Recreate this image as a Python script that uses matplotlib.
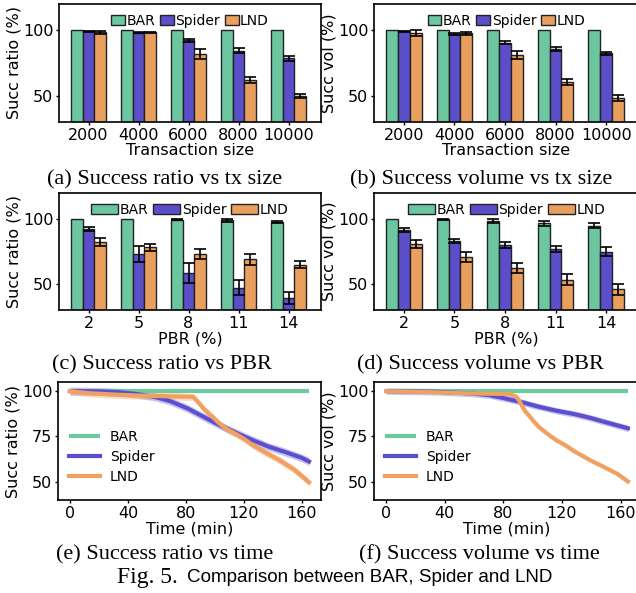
import matplotlib
matplotlib.use("Agg")
import matplotlib.pyplot as plt
import numpy as np

# ---------------- data ----------------
tx_sizes = ["2000", "4000", "6000", "8000", "10000"]
pbr_vals = ["2", "5", "8", "11", "14"]

# (a) success ratio vs tx size
a_bar = [100, 100, 100, 100, 100]
a_bar_err = [0, 0, 0, 0, 0]
a_spider = [99.3, 98.0, 92.2, 84.5, 78.8]
a_spider_err = [0.4, 0.5, 1.4, 2.1, 1.9]
a_lnd = [98.3, 98.3, 81.5, 62.0, 49.5]
a_lnd_err = [1.2, 0.7, 3.8, 2.5, 1.5]

# (b) success volume vs tx size
b_bar = [100, 100, 100, 100, 100]
b_bar_err = [0, 0, 0, 0, 0]
b_spider = [99.3, 97.0, 90.5, 85.5, 82.4]
b_spider_err = [0.3, 1.0, 1.3, 1.5, 1.1]
b_lnd = [97.8, 97.6, 81.0, 60.5, 48.4]
b_lnd_err = [2.0, 1.2, 3.1, 2.5, 2.1]

# (c) success ratio vs PBR
c_bar = [100, 100, 99.5, 99.0, 97.7]
c_bar_err = [0, 0, 0.5, 1.0, 1.0]
c_spider = [92.2, 73.1, 58.5, 47.2, 39.6]
c_spider_err = [1.5, 5.8, 7.5, 6.0, 4.6]
c_lnd = [82.2, 78.1, 72.9, 69.0, 65.0]
c_lnd_err = [3.0, 3.0, 4.0, 4.0, 3.0]

# (d) success volume vs PBR
d_bar = [100, 99.7, 98.5, 96.6, 95.0]
d_bar_err = [0, 0.3, 1.3, 1.7, 2.0]
d_spider = [91.2, 83.2, 79.8, 76.7, 74.9]
d_spider_err = [1.5, 1.8, 2.2, 2.2, 3.2]
d_lnd = [80.8, 71.1, 62.4, 53.4, 45.8]
d_lnd_err = [3.2, 3.9, 4.1, 4.5, 4.0]

# (e) success ratio vs time
e_bar_t = [0, 165]
e_bar = [100, 100]
e_spider_t = [0, 21, 35, 46, 58, 69, 81, 92, 103, 115, 126, 137, 149, 160, 165]
e_spider = [100, 99.8, 99.3, 98.4, 96.9, 94.5, 90.5, 85.9, 81.3, 76.9, 73.0, 69.4, 66.3, 63.2, 61.2]
e_spider_band = 2.2
e_lnd_t = [0, 12, 35, 58, 81, 85, 89, 92, 96, 99, 103, 108, 115, 121, 126, 132, 137,
           144, 149, 155, 160, 165]
e_lnd = [100, 98.9, 97.9, 97.3, 96.9, 96.8, 93.5, 90.5, 87.5, 85.3, 82.2, 79.2, 76.2,
         73.2, 70.3, 67.5, 65.2, 62.2, 59.7, 56.6, 53.2, 49.8]
e_lnd_band = 2.0

# (f) success volume vs time
f_bar_t = [0, 165]
f_bar = [100, 100]
f_spider_t = [0, 35, 58, 70, 81, 93, 104, 116, 128, 139, 150, 165]
f_spider = [100, 99.6, 98.7, 97.8, 96.0, 93.8, 91.4, 89.2, 87.4, 85.3, 82.8, 79.5]
f_spider_band = 1.8
f_lnd_t = [0, 35, 58, 81, 85, 89, 91, 93, 95, 98, 100, 104, 110, 116, 123, 128, 134,
           139, 145, 150, 158, 165]
f_lnd = [100, 99.3, 98.7, 98.4, 98.2, 96.8, 94.5, 91.5, 88.8, 86.0, 84.0, 80.4, 76.5,
         73.0, 69.8, 67.0, 64.3, 62.0, 59.6, 57.6, 54.3, 50.2]
f_lnd_band = 0.8

series_names = ["BAR", "Spider", "LND"]
colors = ["#6cc6a0", "#5b4ec9", "#e9a05f"]
line_colors = ["#6cc9a0", "#5b4ecf", "#f0a060"]

captions = ["(a) Success ratio vs tx size", "(b) Success volume vs tx size",
            "(c) Success ratio vs PBR", "(d) Success volume vs PBR",
            "(e) Success ratio vs time", "(f) Success volume vs time"]

# ---------------- figure ----------------
W, H = 636, 593
plt.rcParams["font.family"] = ["DejaVu Sans"]
fig = plt.figure(figsize=(W / 100, H / 100), dpi=100)
fig.patch.set_facecolor("white")


def px_axes(l, t, r, b):
    return fig.add_axes([l / W, 1 - b / H, (r - l) / W, (b - t) / H])


TICK_FS = 11.5
LAB_FS = 11.5


def style(ax):
    for s in ax.spines.values():
        s.set_linewidth(1.2)
        s.set_color("black")
    ax.tick_params(length=2.5, width=1, direction="out", labelsize=TICK_FS, pad=1.5)


def bar_panel(ax, cats, data, xlabel, ylabel, hl):
    x = np.arange(len(cats))
    w = 0.233
    offs = [-w, 0, w]
    for (vals, errs), off, col, name in zip(data, offs, colors, series_names):
        vals = np.asarray(vals, float)
        errs = np.asarray(errs, float)
        ax.bar(x + off, vals, w, color=col, edgecolor="#222222", linewidth=1.0, label=name)
        m = errs > 0
        ax.errorbar((x + off)[m], vals[m], yerr=errs[m], fmt="none", ecolor="black",
                    elinewidth=1.2, capsize=4.2, capthick=1.2)
    ax.set_xlim(-0.59, 4.65)
    ax.set_ylim(30, 120)
    ax.set_yticks([50, 100])
    ax.set_xticks(x)
    ax.set_xticklabels(cats)
    ax.set_xlabel(xlabel, fontsize=LAB_FS, labelpad=0.5)
    ax.set_ylabel(ylabel, fontsize=LAB_FS, labelpad=1)
    style(ax)
    ax.legend(loc="upper center", bbox_to_anchor=(0.5, 1.0), ncol=3, frameon=False,
              fontsize=10, handlelength=hl, handleheight=0.75, handletextpad=0.1,
              columnspacing=0.35, borderaxespad=0.3)


def line_panel(ax, bar_t, bar, sp_t, sp, sp_band, ln_t, ln, ln_band, ylabel):
    ax.plot(bar_t, bar, color=line_colors[0], lw=3, label="BAR", solid_capstyle="butt")
    sp_t = np.asarray(sp_t, float); sp = np.asarray(sp, float)
    ln_t = np.asarray(ln_t, float); ln = np.asarray(ln, float)
    ax.fill_between(sp_t, sp - sp_band, sp + sp_band, color=line_colors[1], alpha=0.33, lw=0)
    ax.plot(sp_t, sp, color=line_colors[1], lw=3, label="Spider")
    ax.fill_between(ln_t, ln - ln_band, ln + ln_band, color=line_colors[2], alpha=0.38, lw=0)
    ax.plot(ln_t, ln, color=line_colors[2], lw=3, label="LND")
    ax.set_xlim(-8.25, 173.25)
    ax.set_ylim(40, 105)
    ax.set_yticks([50, 75, 100])
    ax.set_xticks([0, 40, 80, 120, 160])
    ax.set_xlabel("Time (min)", fontsize=LAB_FS, labelpad=0.5)
    ax.set_ylabel(ylabel, fontsize=LAB_FS, labelpad=1)
    style(ax)
    ax.legend(loc="lower left", frameon=False, fontsize=10, handlelength=2.2,
              handletextpad=0.75, labelspacing=0.45, borderaxespad=0.4,
              bbox_to_anchor=(0.0, 0.04))


ax_a = px_axes(59, 4, 321, 122)
ax_b = px_axes(374, 4, 639, 122)
ax_c = px_axes(59, 193, 321, 310)
ax_d = px_axes(374, 193, 639, 310)
ax_e = px_axes(58, 382, 321, 500)
ax_f = px_axes(374, 382, 640, 500)

bar_panel(ax_a, tx_sizes, [(a_bar, a_bar_err), (a_spider, a_spider_err), (a_lnd, a_lnd_err)],
          "Transaction size", "Succ ratio (%)", 1.0)
bar_panel(ax_b, tx_sizes, [(b_bar, b_bar_err), (b_spider, b_spider_err), (b_lnd, b_lnd_err)],
          "Transaction size", "Succ vol (%)", 1.0)
bar_panel(ax_c, pbr_vals, [(c_bar, c_bar_err), (c_spider, c_spider_err), (c_lnd, c_lnd_err)],
          "PBR (%)", "Succ ratio (%)", 1.95)
bar_panel(ax_d, pbr_vals, [(d_bar, d_bar_err), (d_spider, d_spider_err), (d_lnd, d_lnd_err)],
          "PBR (%)", "Succ vol (%)", 1.95)
line_panel(ax_e, e_bar_t, e_bar, e_spider_t, e_spider, e_spider_band,
           e_lnd_t, e_lnd, e_lnd_band, "Succ ratio (%)")
line_panel(ax_f, f_bar_t, f_bar, f_spider_t, f_spider, f_spider_band,
           f_lnd_t, f_lnd, f_lnd_band, "Succ vol (%)")

cap_pos = [(165, 180), (481, 180), (162, 365), (480, 365), (165, 555), (479, 555)]
for txt, (cx, cy) in zip(captions, cap_pos):
    fig.text(cx / W, 1 - cy / H, txt, ha="center", va="center",
             family="Liberation Serif", fontsize=16)

fig.text(178 / W, 1 - 578 / H, "Fig. 5.", ha="right", va="center",
         family="Liberation Serif", fontsize=17)
fig.text(187 / W, 1 - 578 / H, "Comparison between BAR, Spider and LND", ha="left",
         va="center", family="Liberation Sans", fontsize=13.6)

fig.savefig("out.png", dpi=100)
